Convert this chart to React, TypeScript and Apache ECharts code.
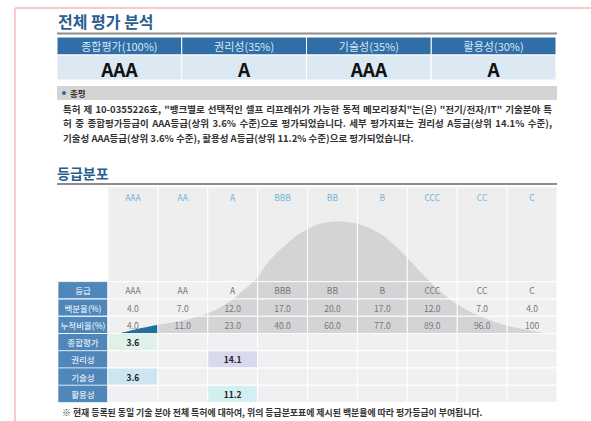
import React, { useEffect, useRef } from "react";
import * as echarts from "echarts";

const grades = ["AAA", "AA", "A", "BBB", "BB", "B", "CCC", "CC", "C"];
const percentages = [4.0, 7.0, 12.0, 17.0, 20.0, 17.0, 12.0, 7.0, 4.0];
const cumulative = [4.0, 11.0, 23.0, 40.0, 60.0, 77.0, 89.0, 96.0, 100];
const statRowLabels = ["등급", "백분율(%)", "누적비율(%)"];
const scoreLabels = ["종합평가", "권리성", "기술성", "활용성"];
const scoreGrades = ["AAA", "A", "AAA", "A"];
const scoreValues = [3.6, 14.1, 3.6, 11.2];
const headerLabels = ["종합평가(100%)", "권리성(35%)", "기술성(35%)", "활용성(30%)"];
const headerGrades = ["AAA", "A", "AAA", "A"];
// bell curve outline: x in grade columns, y = height
const curveX = [0.22, 0.55, 0.98, 1.5, 1.98, 2.38, 2.71, 2.99, 3.19, 3.59, 3.99, 4.39, 4.65, 4.85, 5.05, 5.45, 5.79, 6.05, 6.39, 6.71, 7.11, 7.52, 8.0, 8.46, 8.8];
const curveY = [0, 4, 8.5, 13, 20, 30, 43, 56, 70, 90, 104, 111, 112, 111, 109, 100, 86, 73, 55, 40, 26, 16, 8, 3, 0];
const highlightColors = ["#dff1e8", "#d9d9ee", "#cde5f0", "#d3eff1"];
const summaryLines = [
  '특허 제 10-0355226호, "뱅크별로 선택적인 셀프 리프레쉬가 가능한 동적 메모리장치"는(은) "전기/전자/IT" 기술분야 특',
  "허 중 종합평가등급이 AAA등급(상위 3.6% 수준)으로 평가되었습니다. 세부 평가지표는 권리성 A등급(상위 14.1% 수준),",
  "기술성 AAA등급(상위 3.6% 수준), 활용성 A등급(상위 11.2% 수준)으로 평가되었습니다.",
];
const footnote = "※ 현재 등록된 동일 기술 분야 전체 특허에 대하여, 위의 등급분포표에 제시된 백분율에 따라 평가등급이 부여됩니다.";

const FONT = "'Noto Sans CJK KR', 'Noto Sans', sans-serif";
const ROW = 17.3;
const YMAX = 146.5;
const BLUE_LABEL = "#4f87ba";
const TITLE = "#2a5e8f";
const SUMMARY_FONT = `bold 9.5px ${FONT}`;

const fmt = (v: number) => (v === 100 ? "100" : v.toFixed(1));

function justifiedLine(text: string, x0: number, x1: number, y: number, justify: boolean) {
  if (!justify) {
    return [{ type: "text", x: x0, y, style: { text, fill: "#333", font: SUMMARY_FONT, textVerticalAlign: "middle" } }];
  }
  const canvas = document.createElement("canvas");
  const ctx = canvas.getContext("2d")!;
  ctx.font = SUMMARY_FONT;
  const words = text.split(" ");
  const widths = words.map((w) => ctx.measureText(w).width);
  const total = widths.reduce((a, b) => a + b, 0);
  const gap = (x1 - x0 - total) / (words.length - 1);
  let x = x0;
  return words.map((w, i) => {
    const el = { type: "text", x, y, style: { text: w, fill: "#333", font: SUMMARY_FONT, textVerticalAlign: "middle" } };
    x += widths[i] + gap;
    return el;
  });
}

export default function App() {
  const ref = useRef<HTMLDivElement>(null);
  useEffect(() => {
    if (!ref.current) return;
    const chart = echarts.init(ref.current, null, { renderer: "svg" });

    const curveData = curveX.map((x, i) => [x, curveY[i]]);
    const blueData = curveData.filter((d) => d[0] <= 1.0);
    blueData.push([1.0, 8.6]);

    const statItems: number[][] = [];
    for (let r = 0; r < 4; r++) {
      for (let c = -1; c < 9; c++) {
        if (r === 3 && c === -1) continue;
        statItems.push([c, r]);
      }
    }
    const scoreItems: number[][] = [];
    for (let r = 0; r < 4; r++) for (let c = -1; c < 9; c++) scoreItems.push([c, r]);
    const headerItems: number[][] = [];
    for (let c = 0; c < 4; c++) {
      headerItems.push([c, 0]);
      headerItems.push([c, 1]);
    }

    const bandY = (r: number) =>
      r === 3 ? [YMAX, 3 * ROW] : [(3 - r) * ROW, (2 - r) * ROW];

    const summaryEls: any[] = [];
    summaryLines.forEach((t, i) => {
      summaryEls.push(...justifiedLine(t, 63, 552, 108.5 + i * 14.5, i < 2));
    });

    const option: any = {
      animation: false,
      backgroundColor: "#ffffff",
      textStyle: { fontFamily: FONT },
      grid: [
        { left: 58, right: 34, top: 187, height: YMAX },
        { left: 58, right: 34, top: 333.5, height: 69 },
        { left: 57, right: 35, top: 37, height: 43 },
      ],
      xAxis: [
        { type: "value", gridIndex: 0, min: -1, max: 9, show: false },
        { type: "value", gridIndex: 1, min: -1, max: 9, show: false },
        { type: "value", gridIndex: 2, min: 0, max: 4, show: false },
      ],
      yAxis: [
        { type: "value", gridIndex: 0, min: 0, max: YMAX, show: false },
        { type: "category", gridIndex: 1, data: scoreLabels, inverse: true, show: false },
        { type: "value", gridIndex: 2, min: 0, max: 43, inverse: true, show: false },
      ],
      graphic: [
        { type: "line", shape: { x1: 15, y1: 8, x2: 591, y2: 8 }, style: { stroke: "#f6b9b9", lineWidth: 1.5 } },
        { type: "line", shape: { x1: 15, y1: 8, x2: 15, y2: 421 }, style: { stroke: "#f6b9b9", lineWidth: 1.5 } },
        { type: "text", x: 58, y: 21, style: { text: "전체 평가 분석", fill: TITLE, font: `bold 16px ${FONT}`, textVerticalAlign: "middle" } },
        { type: "rect", shape: { x: 57, y: 32.5, width: 500, height: 2 }, style: { fill: "#8c8c8c" } },
        { type: "rect", shape: { x: 57, y: 86, width: 500, height: 14 }, style: { fill: "#d4d4d4" } },
        { type: "circle", shape: { cx: 64, cy: 93, r: 2 }, style: { fill: "#2f6ea6" } },
        { type: "text", x: 70, y: 93, style: { text: "총평", fill: "#333", font: `bold 8.5px ${FONT}`, textVerticalAlign: "middle" } },
        ...summaryEls,
        { type: "text", x: 57, y: 172.5, style: { text: "등급분포", fill: TITLE, font: `bold 14px ${FONT}`, textVerticalAlign: "middle" } },
        { type: "rect", shape: { x: 57, y: 183, width: 500, height: 2 }, style: { fill: "#8c8c8c" } },
        { type: "text", x: 62, y: 412, style: { text: footnote, fill: "#333", font: `bold 8.9px ${FONT}`, textVerticalAlign: "middle" } },
      ],
      series: [
        {
          type: "custom",
          xAxisIndex: 0,
          yAxisIndex: 0,
          z: 1,
          data: statItems,
          renderItem: (params: any, api: any) => {
            const c = api.value(0);
            const r = api.value(1);
            const [yt, yb] = bandY(r);
            const p0 = api.coord([c, yt]);
            const p1 = api.coord([c + 1, yb]);
            const fill = c === -1 ? BLUE_LABEL : r === 3 ? "#eeeeee" : "#f0f0f0";
            return {
              type: "rect",
              shape: { x: p0[0], y: p0[1], width: p1[0] - p0[0], height: p1[1] - p0[1] },
              style: { fill },
            };
          },
        },
        {
          type: "line",
          xAxisIndex: 0,
          yAxisIndex: 0,
          z: 2,
          data: curveData,
          smooth: 0.45,
          symbol: "none",
          lineStyle: { width: 0 },
          areaStyle: { color: "#d4d4d7", opacity: 1 },
        },
        {
          type: "line",
          xAxisIndex: 0,
          yAxisIndex: 0,
          z: 3,
          data: blueData,
          smooth: 0.3,
          symbol: "none",
          lineStyle: { width: 0 },
          areaStyle: { color: "#1f6fa3", opacity: 1 },
        },
        {
          type: "custom",
          xAxisIndex: 0,
          yAxisIndex: 0,
          z: 4,
          data: statItems,
          renderItem: (params: any, api: any) => {
            const c = api.value(0);
            const r = api.value(1);
            const [yt, yb] = bandY(r);
            const p0 = api.coord([c, yt]);
            const p1 = api.coord([c + 1, yb]);
            const w = p1[0] - p0[0];
            const h = p1[1] - p0[1];
            const children: any[] = [
              {
                type: "rect",
                shape: { x: p0[0], y: p0[1], width: w, height: h },
                style: { fill: "none", stroke: "rgba(255,255,255,0.75)", lineWidth: 1 },
              },
            ];
            let text = "";
            let color = "#777";
            let ty = p0[1] + h / 2;
            if (c === -1) {
              text = statRowLabels[r];
              color = "#ffffff";
            } else if (r === 3) {
              text = grades[c];
              color = "#72b3db";
              ty = p0[1] + 10;
            } else if (r === 0) {
              text = grades[c];
            } else if (r === 1) {
              text = fmt(percentages[c]);
            } else {
              text = fmt(cumulative[c]);
            }
            children.push({
              type: "text",
              x: p0[0] + w / 2,
              y: ty,
              style: { text, fill: color, font: `8.5px ${FONT}`, textAlign: "center", textVerticalAlign: "middle" },
            });
            return { type: "group", children };
          },
        },
        {
          type: "custom",
          xAxisIndex: 1,
          yAxisIndex: 1,
          z: 1,
          data: scoreItems,
          renderItem: (params: any, api: any) => {
            const c = api.value(0);
            const r = api.value(1);
            const p = api.coord([c, r]);
            const size = api.size([1, 1]);
            const x = p[0];
            const y = p[1] - size[1] / 2;
            let fill = "#f0f0f2";
            let text = "";
            let color = "#222";
            let weight = "bold";
            if (c === -1) {
              fill = BLUE_LABEL;
              text = scoreLabels[r];
              color = "#ffffff";
              weight = "normal";
            } else if (grades[c] === scoreGrades[r]) {
              fill = highlightColors[r];
              text = String(scoreValues[r]);
            }
            return {
              type: "group",
              children: [
                {
                  type: "rect",
                  shape: { x, y, width: size[0], height: size[1] },
                  style: { fill, stroke: c === -1 ? "rgba(255,255,255,0.6)" : "#ffffff", lineWidth: 1 },
                },
                {
                  type: "text",
                  x: x + size[0] / 2,
                  y: p[1],
                  style: { text, fill: color, font: `${weight} 8.5px ${FONT}`, textAlign: "center", textVerticalAlign: "middle" },
                },
              ],
            };
          },
        },
        {
          type: "custom",
          xAxisIndex: 2,
          yAxisIndex: 2,
          z: 1,
          data: headerItems,
          renderItem: (params: any, api: any) => {
            const c = api.value(0);
            const r = api.value(1);
            const p0 = api.coord([c, r === 0 ? 0 : 18]);
            const p1 = api.coord([c + 1, r === 0 ? 18 : 43]);
            const w = p1[0] - p0[0];
            const h = p1[1] - p0[1];
            const isHead = r === 0;
            return {
              type: "group",
              children: [
                {
                  type: "rect",
                  shape: { x: p0[0], y: p0[1], width: w, height: h },
                  style: { fill: isHead ? "#2f6ea6" : "#dce8f2", stroke: "#ffffff", lineWidth: 1 },
                },
                {
                  type: "text",
                  x: p0[0] + w / 2,
                  y: p0[1] + h / 2 + (isHead ? 0 : 1),
                  style: {
                    text: isHead ? headerLabels[c] : headerGrades[c],
                    fill: isHead ? "#dbe7f3" : "#111111",
                    font: isHead ? `11px ${FONT}` : `bold 19px ${FONT}`,
                    textAlign: "center",
                    textVerticalAlign: "middle",
                  },
                },
              ],
            };
          },
        },
      ],
    };
    chart.setOption(option);
    return () => chart.dispose();
  }, []);
  return (
    <div
      ref={ref}
      style={{ position: "absolute", left: 0, top: 0, width: 591, height: 421 }}
    />
  );
}
